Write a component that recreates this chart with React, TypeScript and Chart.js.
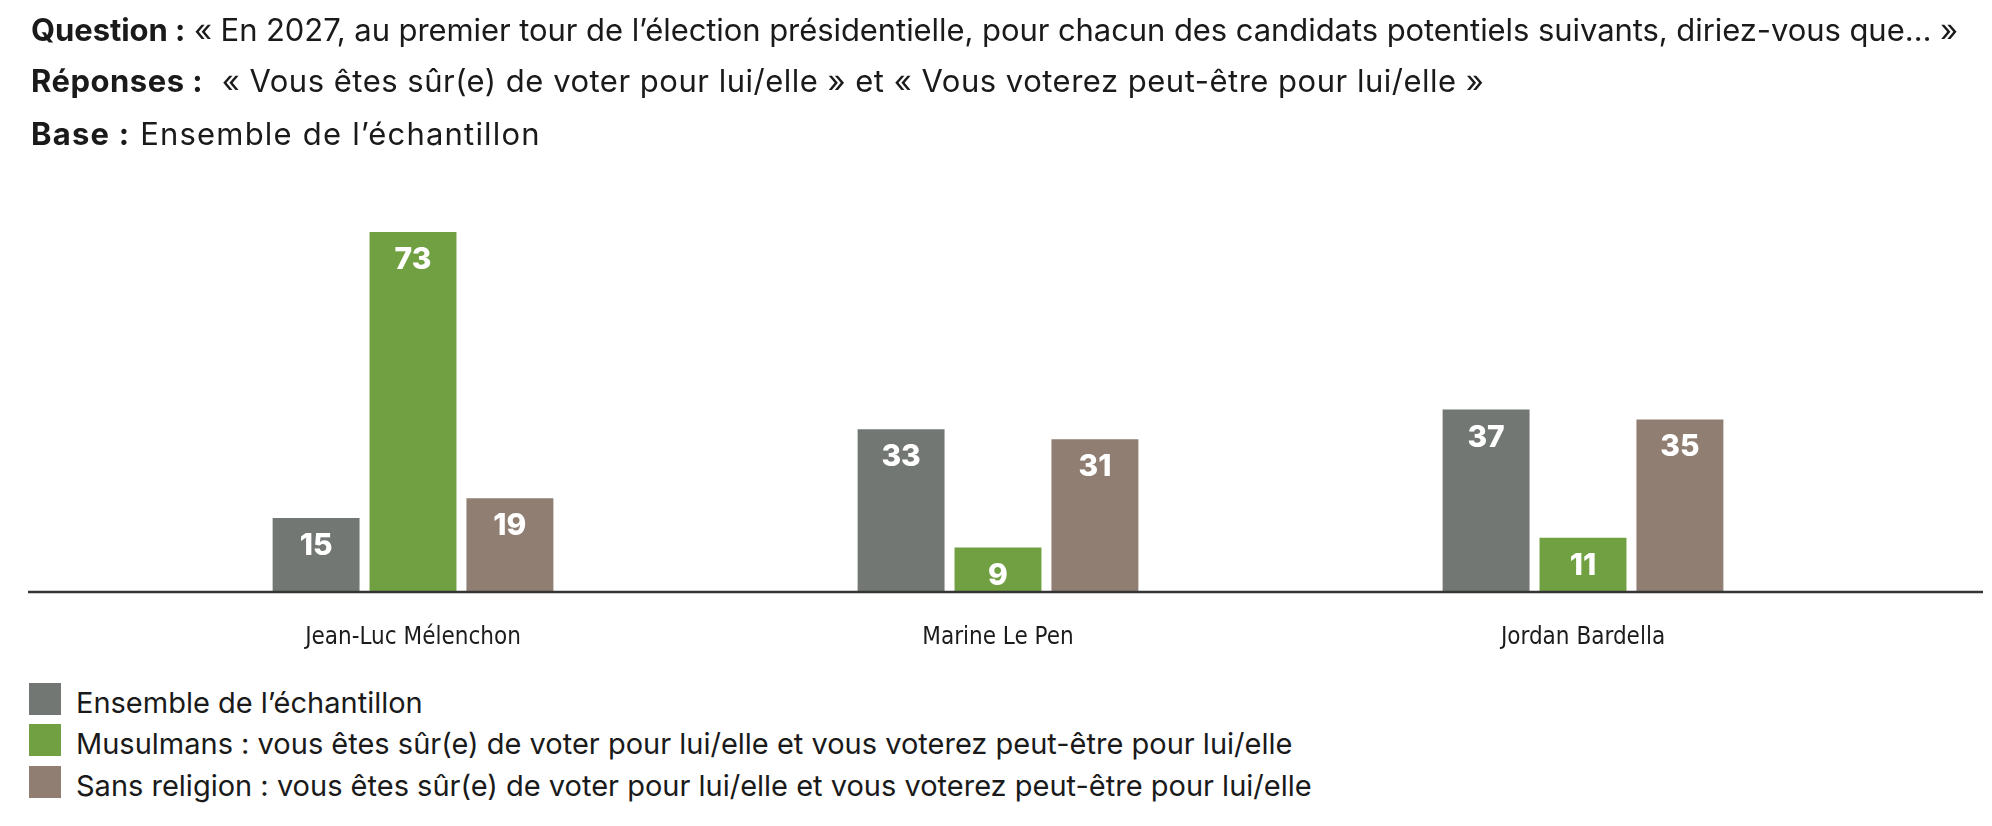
import { useEffect, useRef } from "react";
import { Chart, registerables } from "chart.js";

Chart.register(...registerables);

const candidates = ["Jean-Luc Mélenchon", "Marine Le Pen", "Jordan Bardella"];
const ensemble = [15, 33, 37];
const musulmans = [73, 9, 11];
const sansReligion = [19, 31, 35];

const seriesLabels = [
  "Ensemble de l’échantillon",
  "Musulmans : vous êtes sûr(e) de voter pour lui/elle et vous voterez peut-être pour lui/elle",
  "Sans religion : vous êtes sûr(e) de voter pour lui/elle et vous voterez peut-être pour lui/elle",
];
const seriesColors = ["#737773", "#71a042", "#8f7e71"];
const seriesValues = [ensemble, musulmans, sansReligion];

const FONT = "Inter, 'Open Sans', sans-serif";

// white value inside the top of every bar
const valueLabels = {
  id: "valueLabels",
  afterDatasetsDraw(chart: any) {
    const { ctx } = chart;
    ctx.save();
    ctx.fillStyle = "#ffffff";
    ctx.font = "800 30px Inter, sans-serif";
    ctx.textAlign = "center";
    ctx.textBaseline = "middle";
    chart.data.datasets.forEach((ds: any, i: number) => {
      chart.getDatasetMeta(i).data.forEach((bar: any, j: number) => {
        ctx.fillText(String(ds.data[j]), bar.x, bar.y + 28);
      });
    });
    ctx.restore();
  },
};

// zero line running nearly the full width of the page
const baseline = {
  id: "baseline",
  afterDatasetsDraw(chart: any) {
    const { ctx } = chart;
    const y = chart.scales.y.getPixelForValue(0);
    ctx.save();
    ctx.strokeStyle = "#353535";
    ctx.lineWidth = 2.4;
    ctx.beginPath();
    ctx.moveTo(20, y);
    ctx.lineTo(1975, y);
    ctx.stroke();
    ctx.restore();
  },
};

const BarChart = () => {
  const canvasRef = useRef<HTMLCanvasElement | null>(null);
  const chartRef = useRef<Chart | null>(null);

  useEffect(() => {
    if (!canvasRef.current) return;
    const ctx = canvasRef.current.getContext("2d");
    if (!ctx) return;

    chartRef.current = new Chart(ctx, {
      type: "bar",
      data: {
        labels: candidates,
        datasets: seriesValues.map((values, i) => ({
          label: seriesLabels[i],
          data: values,
          backgroundColor: seriesColors[i],
          borderWidth: 0,
          categoryPercentage: 0.497,
          barPercentage: 0.897,
        })),
      },
      options: {
        responsive: true,
        maintainAspectRatio: false,
        animation: false,
        layout: {
          padding: { left: 112.5, right: 108.5, top: 189.5, bottom: 16.8 },
        },
        plugins: {
          legend: { display: false },
          tooltip: { enabled: false },
        },
        scales: {
          x: {
            grid: { display: false, drawTicks: false },
            border: { display: false },
            afterFit: (scale: any) => {
              scale.height = 59.2;
            },
            ticks: {
              color: "#1c1c1c",
              padding: 31.5,
              font: {
                family: "'Liberation Sans Narrow', 'DejaVu Sans Condensed', sans-serif",
                size: 24,
                lineHeight: 1.2,
              },
            },
          },
          y: {
            display: false,
            min: 0,
            max: 80,
          },
        },
      },
      plugins: [valueLabels, baseline],
    });

    return () => {
      chartRef.current?.destroy();
    };
  }, []);

  return (
    <div style={{ position: "absolute", left: 0, top: 0, width: 1976, height: 660 }}>
      <canvas ref={canvasRef} />
    </div>
  );
};

const headerLine = (top: number, spacing: number): React.CSSProperties => ({
  position: "absolute",
  left: 23,
  top,
  fontFamily: FONT,
  fontSize: 31,
  lineHeight: "40px",
  letterSpacing: spacing,
  color: "#1a1a1a",
  whiteSpace: "nowrap",
});

export default function App() {
  return (
    <div style={{ position: "relative", width: 1976, height: 810, background: "#fff" }}>
      <BarChart />
      <div style={headerLine(2.4, -0.07)}>
        <b>Question :</b> « En 2027, au premier tour de l’élection présidentielle, pour chacun des candidats potentiels suivants, diriez-vous que… »
      </div>
      <div style={headerLine(53.4, 0.5)}>
        <b>Réponses :</b>&nbsp; « Vous êtes sûr(e) de voter pour lui/elle » et « Vous voterez peut-être pour lui/elle »
      </div>
      <div style={headerLine(106.4, 1.2)}>
        <b>Base :</b> Ensemble de l’échantillon
      </div>
      {seriesLabels.map((label, i) => {
        const squareTop = [675, 716, 758][i];
        return (
          <div key={label}>
            <div
              style={{
                position: "absolute",
                left: 21,
                top: squareTop,
                width: 32,
                height: 32,
                background: seriesColors[i],
              }}
            />
            <div
              style={{
                position: "absolute",
                left: 68,
                top: squareTop + 3.5,
                fontFamily: FONT,
                fontSize: 29,
                lineHeight: "32px",
                color: "#1a1a1a",
                whiteSpace: "nowrap",
              }}
            >
              {label}
            </div>
          </div>
        );
      })}
    </div>
  );
}
